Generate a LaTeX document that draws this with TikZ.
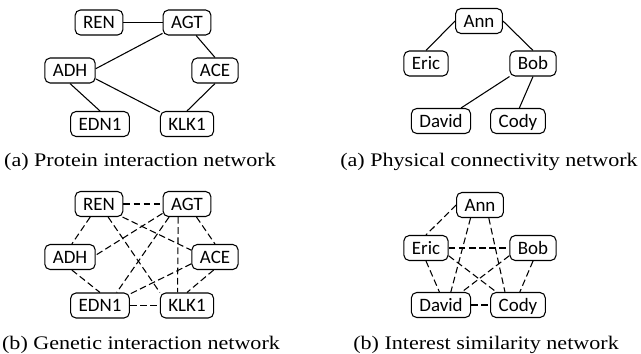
\documentclass[tikz,border=0pt]{standalone}
\usepackage{fontspec}
\setmainfont{Liberation Serif}
\newfontfamily\labelfont{Carlito}
\newfontfamily\capfont[FakeStretch=1.15]{Liberation Serif}

\begin{document}
\begin{tikzpicture}[x=0.75pt, y=-0.75pt,
    ent/.style={draw, rounded corners=4pt, line width=0.8pt, minimum height=18.75pt,
                inner xsep=6pt, inner ysep=0pt, text height=9.1pt, text depth=0pt,
                font=\labelfont\fontsize{14.2}{17}\selectfont},
    tie/.style={line width=0.8pt},
    weak/.style={line width=0.8pt, dash pattern=on 5pt off 2.6pt},
    subcap/.style={anchor=base, font=\capfont\fontsize{14.4}{17}\selectfont}]
  \useasboundingbox (0,0) rectangle (641,353);
  % ---- (a) protein interaction network ----
  \node[ent] (pREN)  at (99,22.5)  {REN};
  \node[ent] (pAGT)  at (187,22.5) {AGT};
  \node[ent] (pADH)  at (70,70.5)  {ADH};
  \node[ent] (pACE)  at (215,70.5) {ACE};
  \node[ent] (pEDN1) at (100,124)  {EDN1};
  \node[ent] (pKLK1) at (187,124)  {KLK1};
  \draw[tie] (pREN.east) -- (pAGT.west);
  \draw[tie] (pAGT.204) -- (pADH.4);
  \draw[tie] (pAGT.305) -- (pACE.north);
  \draw[tie] (pADH.south) -- (pEDN1.north);
  \draw[tie] (pADH.342) -- (pKLK1.156);
  \draw[tie] (pACE.south) -- (pKLK1.north);
  \node[subcap] (pcap) at (140,166) {(a) Protein interaction network};
  % ---- (a) physical connectivity network ----
  \node[ent] (cAnn)   at (479,21)   {Ann};
  \node[ent] (cEric)  at (426,63.5) {Eric};
  \node[ent] (cBob)   at (533,63.5) {Bob};
  \node[ent] (cDavid) at (441,121)  {David};
  \node[ent] (cCody)  at (518,121)  {Cody};
  \draw[tie] (cAnn.west) -- (cEric.north);
  \draw[tie] (cAnn.east) -- (cBob.north);
  \draw[tie] (cBob.209) -- (cDavid.33);
  \draw[tie] (cBob.south) -- (cCody.84);
  \node[subcap] (ccap) at (489,166) {(a) Physical connectivity network};
  % ---- (b) genetic interaction network ----
  \node[ent] (gREN)  at (99,204)    {REN};
  \node[ent] (gAGT)  at (187,204)   {AGT};
  \node[ent] (gADH)  at (70,257)    {ADH};
  \node[ent] (gACE)  at (215,257)   {ACE};
  \node[ent] (gEDN1) at (100,305.5) {EDN1};
  \node[ent] (gKLK1) at (187,305.5) {KLK1};
  \draw[weak] (gREN.east) -- (gAGT.west);
  \draw[weak] (gREN.236) -- (gADH.82);
  \draw[weak] (gREN.305) -- (gKLK1.north west);
  \draw[weak] (gREN.331) -- (gACE.164);
  \draw[weak] (gAGT.201) -- (gADH.4);
  \draw[weak] (gAGT.216) -- (gEDN1.38);
  \draw[weak] (gAGT.236) -- (gKLK1.126);
  \draw[weak] (gAGT.306) -- (gACE.north);
  \draw[weak] (gADH.278) -- (gEDN1.north);
  \draw[weak] (gACE.196) -- (gEDN1.21);
  \draw[weak] (gACE.264) -- (gKLK1.north);
  \draw[weak] (gEDN1.east) -- (gKLK1.west);
  \node[subcap] (gcap) at (141,349) {(b) Genetic interaction network};
  % ---- (b) interest similarity network ----
  \node[ent] (sAnn)   at (480,205) {Ann};
  \node[ent] (sEric)  at (426,248) {Eric};
  \node[ent] (sBob)   at (533,248) {Bob};
  \node[ent] (sDavid) at (441,305) {David};
  \node[ent] (sCody)  at (518,305) {Cody};
  \draw[weak] (sAnn.west) -- (sEric.north);
  \draw[weak] (sAnn.234) -- (sDavid.53);
  \draw[weak] (sAnn.304) -- (sCody.135);
  \draw[weak] (sEric.east) -- (sBob.west);
  \draw[weak] (sEric.south) -- (sDavid.97);
  \draw[weak] (sEric.341) -- (sCody.149);
  \draw[weak] (sBob.198) -- (sDavid.32);
  \draw[weak] (sBob.south) -- (sCody.82);
  \draw[weak] (sDavid.east) -- (sCody.west);
  \node[subcap] (scap) at (486,349) {(b) Interest similarity network};
\end{tikzpicture}
\end{document}
